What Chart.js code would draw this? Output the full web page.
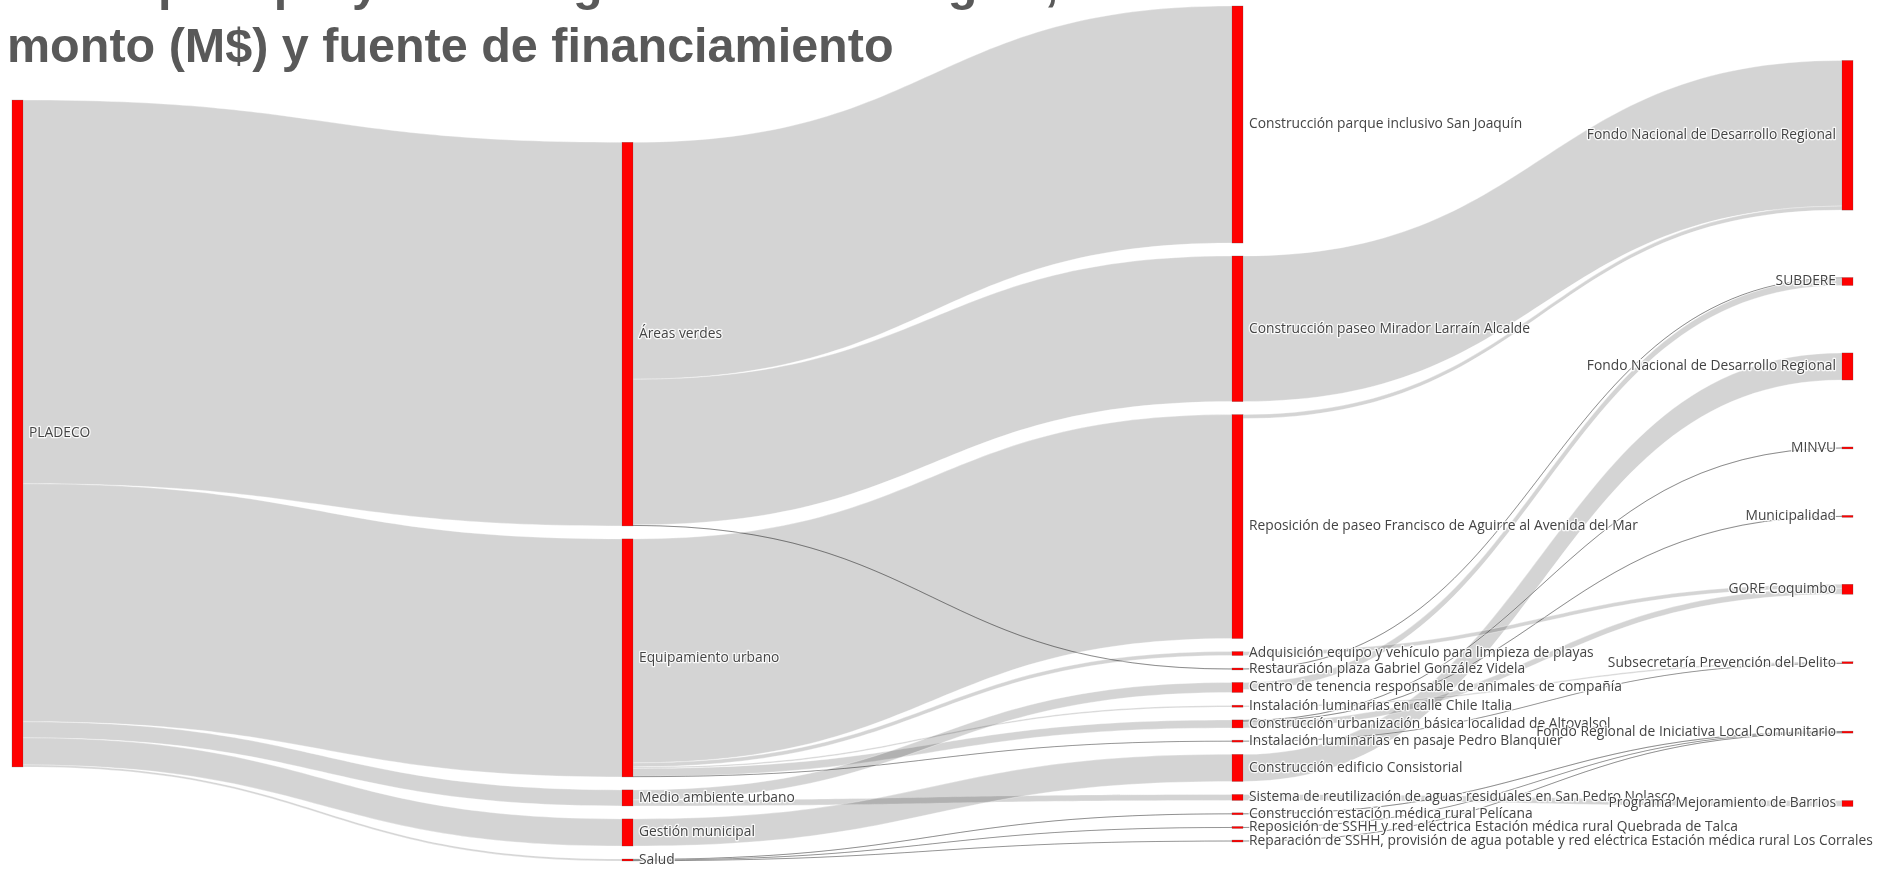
<!DOCTYPE html>
<html lang="es">
<head>
<meta charset="utf-8">
<title>Proyectos PLADECO por área, monto y fuente de financiamiento</title>
<script src="https://cdn.jsdelivr.net/npm/chart.js@4.4.1/dist/chart.umd.min.js"></script>
<style>
  html, body { margin: 0; padding: 0; background: #fff; }
  .wrap { position: relative; width: 1901px; height: 874px; overflow: hidden; }
  .title {
    position: absolute; left: 7px; top: -48px; z-index: 2;
    font: bold 48.5px/62px "Liberation Sans", Arial, sans-serif;
    color: #595959; white-space: nowrap; pointer-events: none;
  }
  #chart { position: absolute; left: 0; top: 0; }
</style>
</head>
<body>
<div class="wrap">
  <div class="title">Gasto para proyectos según área estratégica,<br>monto (M$) y fuente de financiamiento</div>
  <canvas id="chart" width="1901" height="874"></canvas>
</div>
<script>
'use strict';

/* ── DATA ── */
// nodes: plan → área → proyecto → fuente de financiamiento
const NODE_LABELS = [
  'PLADECO',
  'Áreas verdes',
  'Equipamiento urbano',
  'Medio ambiente urbano',
  'Gestión municipal',
  'Salud',
  'Construcción parque inclusivo San Joaquín',
  'Construcción paseo Mirador Larraín Alcalde',
  'Reposición de paseo Francisco de Aguirre al Avenida del Mar',
  'Adquisición equipo y vehículo para limpieza de playas',
  'Restauración plaza Gabriel González Videla',
  'Centro de tenencia responsable de animales de compañía',
  'Instalación luminarias en calle Chile Italia',
  'Construcción urbanización básica localidad de Altovalsol',
  'Instalación luminarias en pasaje Pedro Blanquier',
  'Construcción edificio Consistorial',
  'Sistema de reutilización de aguas residuales en San Pedro Nolasco',
  'Construcción estación médica rural Pelícana',
  'Reposición de SSHH y red eléctrica Estación médica rural Quebrada de Talca',
  'Reparación de SSHH, provisión de agua potable y red eléctrica Estación médica rural Los Corrales',
  'Fondo Nacional de Desarrollo Regional',
  'SUBDERE',
  'Fondo Nacional de Desarrollo Regional',
  'MINVU',
  'Municipalidad',
  'GORE Coquimbo',
  'Subsecretaría Prevención del Delito',
  'Fondo Regional de Iniciativa Local Comunitario',
  'Programa Mejoramiento de Barrios'
];

// links (monto en M$)
const LINK_SOURCE = [0, 0, 0, 0, 0,   1, 1, 1,   2, 2, 2, 2, 2,   3, 3,   4,   5, 5, 5,
                     7, 8,   10, 11,   15,   13, 13, 13, 9,   12, 14,   17, 18, 19,   16];
const LINK_TARGET = [1, 2, 3, 4, 5,   6, 7, 10,  8, 9, 12, 13, 14,  11, 16,  15,  17, 18, 19,
                     20, 20,  21, 21,   22,   23, 24, 25, 25,  26, 26,   27, 27, 27,   28];
const LINK_VALUE  = [3820, 2370, 160, 270, 20,   2360, 1450, 10,   2230, 40, 15, 80, 5,   100, 60,   270,   8, 6, 6,
                     1450, 40,   10, 70,   270,   10, 10, 60, 40,   15, 5,   8, 6, 6,   60];

/* ── LAYOUT SETTINGS ── */
const NODE_PAD = 129;          // gap between nodes, in M$
const NODE_FILL = 0.78;        // share of the height taken by the fullest column
const COLUMN_ALIGN = ['center', 'bottom', 'top', 'spread'];
const NODE_W = 11;             // px
const NODE_COLOR = '#ff0000';
const LINK_COLOR = 'rgba(0,0,0,0.17)';
const LABEL_FONT = '13.8px "Open Sans", "DejaVu Sans", sans-serif';

/* ══════════════ SANKEY LAYOUT ══════════════ */
const Sankey = (() => {
  const sum = (arr, f) => arr.reduce((a, d) => a + f(d), 0);

  function build(labels, src, tgt, val, pad) {
    const nodes = labels.map((name, index) => ({ name, index, sourceLinks: [], targetLinks: [] }));
    const links = src.map((s, i) => ({ source: nodes[s], target: nodes[tgt[i]], value: val[i], width: val[i], index: i }));
    links.forEach(l => { l.source.sourceLinks.push(l); l.target.targetLinks.push(l); });
    nodes.forEach(n => {
      n.value = Math.max(sum(n.sourceLinks, l => l.value), sum(n.targetLinks, l => l.value));
    });

    // depth → column
    let current = new Set(nodes), next = new Set(), d = 0;
    while (current.size) {
      current.forEach(n => { n.layer = d; n.sourceLinks.forEach(l => next.add(l.target)); });
      current = next; next = new Set(); d++;
    }
    const nCols = Math.max(...nodes.map(n => n.layer)) + 1;
    const columns = Array.from({ length: nCols }, () => []);
    nodes.forEach(n => columns[n.layer].push(n));

    const colSum = c => sum(c, n => n.value);
    const colSpan = c => colSum(c) + (c.length - 1) * pad;
    const extent = Math.max(...columns.map(colSpan), Math.max(...columns.map(colSum)) / NODE_FILL);

    // stack every column in data order, placed by its alignment rule
    columns.forEach((col, ci) => {
      const align = COLUMN_ALIGN[ci] || 'top';
      const free = extent - colSpan(col);
      const gap = align === 'spread' ? free / (col.length + 1) : 0;
      let y = align === 'bottom' ? free : align === 'center' ? free / 2 : gap;
      col.forEach(n => { n.y0 = y; n.y1 = y + n.value; y = n.y1 + pad + gap; });
    });

    // flow edges at both ends, ordered to limit crossings
    const byTarget = (a, b) => a.target.y0 - b.target.y0 || a.index - b.index;
    const bySource = (a, b) => a.source.y0 - b.source.y0 || a.index - b.index;
    nodes.forEach(n => {
      n.sourceLinks.sort(byTarget);
      n.targetLinks.sort(bySource);
      let ys = n.y0, yt = n.y0;
      n.sourceLinks.forEach(l => { l.sy = ys; ys += l.width; });
      n.targetLinks.forEach(l => { l.ty = yt; yt += l.width; });
    });
    return { nodes, links, extent, lastCol: nCols - 1 };
  }
  return { build };
})();

const graph = Sankey.build(NODE_LABELS, LINK_SOURCE, LINK_TARGET, LINK_VALUE, NODE_PAD);

/* ══════════════ DRAW PLUGIN ══════════════ */
const sankeyPlugin = {
  id: 'sankeyFlows',
  afterDatasetsDraw(chart) {
    const { ctx, scales: { x, y } } = chart;
    const X = c => x.getPixelForValue(c);
    const Y = v => y.getPixelForValue(v);
    ctx.save();

    // flows
    graph.links.forEach(l => {
      const sx = X(l.source.layer) + NODE_W, tx = X(l.target.layer);
      const xm = (sx + tx) / 2;
      const s0 = Y(l.sy), s1 = Y(l.sy + l.width);
      const t0 = Y(l.ty), t1 = Y(l.ty + l.width);
      ctx.beginPath();
      ctx.moveTo(sx, s0);
      ctx.bezierCurveTo(xm, s0, xm, t0, tx, t0);
      ctx.lineTo(tx, t1);
      ctx.bezierCurveTo(xm, t1, xm, s1, sx, s1);
      ctx.closePath();
      ctx.fillStyle = LINK_COLOR;
      ctx.fill();
      ctx.lineWidth = 0.6;
      ctx.strokeStyle = 'rgba(255,255,255,0.55)';
      ctx.stroke();
      if (s1 - s0 < 1.5) {
        // hairline flows stay visible
        const sm = (s0 + s1) / 2, tm = (t0 + t1) / 2;
        ctx.beginPath();
        ctx.moveTo(sx, sm);
        ctx.bezierCurveTo(xm, sm, xm, tm, tx, tm);
        ctx.lineWidth = 1;
        ctx.strokeStyle = 'rgba(0,0,0,0.38)';
        ctx.stroke();
      }
    });

    // nodes
    graph.nodes.forEach(n => {
      const x0 = X(n.layer);
      let top = Y(n.y0), h = Y(n.y1) - top;
      if (h < 2) { top -= (2 - h) / 2; h = 2; }
      ctx.fillStyle = NODE_COLOR;
      ctx.fillRect(x0, top, NODE_W, h);
      ctx.lineWidth = 0.5;
      ctx.strokeStyle = 'rgba(68,68,68,0.45)';
      ctx.strokeRect(x0, top, NODE_W, h);
    });

    // labels
    ctx.font = LABEL_FONT;
    ctx.textBaseline = 'middle';
    ctx.lineJoin = 'round';
    graph.nodes.forEach(n => {
      const last = n.layer === graph.lastCol;
      const lx = last ? X(n.layer) - 6 : X(n.layer) + NODE_W + 6;
      const ly = Y((n.y0 + n.y1) / 2);
      ctx.textAlign = last ? 'right' : 'left';
      ctx.lineWidth = 2.5;
      ctx.strokeStyle = 'rgba(255,255,255,0.85)';
      ctx.strokeText(n.name, lx, ly);
      ctx.fillStyle = '#444';
      ctx.fillText(n.name, lx, ly);
    });
    ctx.restore();
  }
};

/* ══════════════ CHART ══════════════ */
new Chart(document.getElementById('chart'), {
  type: 'scatter',
  data: { datasets: [] },
  options: {
    responsive: false,
    animation: false,
    layout: { padding: { left: 12, right: 59, top: 6, bottom: 13 } },
    plugins: { legend: { display: false }, tooltip: { enabled: false }, title: { display: false } },
    scales: {
      x: { type: 'linear', min: 0, max: graph.lastCol, display: false },
      y: { type: 'linear', min: 0, max: graph.extent, reverse: true, display: false }
    }
  },
  plugins: [sankeyPlugin]
});
</script>
</body>
</html>
